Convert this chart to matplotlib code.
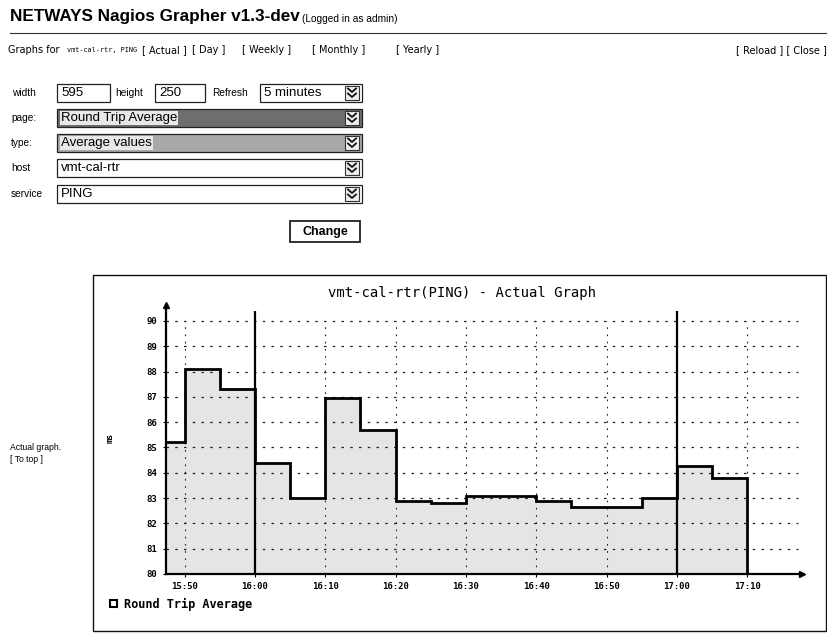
import matplotlib
matplotlib.use('Agg')
import matplotlib.pyplot as plt
from matplotlib.patches import Rectangle
from matplotlib.lines import Line2D

# round trip average (ms), one value per 5 minute bucket
bucket_start = ["15:45", "15:50", "15:55", "16:00", "16:05", "16:10", "16:15", "16:20",
                "16:25", "16:30", "16:35", "16:40", "16:45", "16:50", "16:55", "17:00", "17:05"]
bucket_last_end = "17:10"
rtt_ms = [85.2, 88.1, 87.3, 84.4, 83.0, 86.95, 85.7, 82.9,
          82.8, 83.1, 83.1, 82.9, 82.65, 82.65, 83.0, 84.25, 83.8]

x_ticks = ["15:50", "16:00", "16:10", "16:20", "16:30", "16:40", "16:50", "17:00", "17:10"]
hour_lines = ["16:00", "17:00"]
y_ticks = [80, 81, 82, 83, 84, 85, 86, 87, 88, 89, 90]
view_start, view_end = "15:47.3", "17:17.8"

nav_links = ["[ Actual ]", "[ Day ]", "[ Weekly ]", "[ Monthly ]", "[ Yearly ]"]


def to_min(s):
    h, m = s.split(":")
    return int(h) * 60 + float(m)


W, H = 828, 636
fig = plt.figure(figsize=(8.28, 6.36), dpi=100)
fig.patch.set_facecolor("white")

# page layer in pixel coords
page = fig.add_axes([0, 0, 1, 1])
page.set_xlim(0, W)
page.set_ylim(H, 0)
page.axis("off")

sans = "Liberation Sans"
wide = "DejaVu Sans"
mono = "DejaVu Sans Mono"

page.text(10, 17, "NETWAYS Nagios Grapher v1.3-dev", fontsize=12.3, weight="bold",
          family=sans, va="center")
page.text(302, 19, "(Logged in as admin)", fontsize=7.3, family=sans, va="center")
page.plot([10, 828], [33, 33], color="#333333", lw=0.8)
page.text(8, 50, "Graphs for", fontsize=7, family=wide, va="center")
page.text(67, 50, "vmt-cal-rtr, PING", fontsize=4.9, family=mono, va="center")
for txt, x in zip(nav_links, [142, 192, 242, 312, 396]):
    page.text(x, 50, txt, fontsize=7, family=wide, va="center")
page.text(827, 50, "[ Reload ] [ Close ]", fontsize=7, family=wide, va="center", ha="right")


def box(x0, y0, x1, y1, fc="white", lw=0.9):
    page.add_patch(Rectangle((x0, y0), x1 - x0, y1 - y0, facecolor=fc,
                             edgecolor="#222222", lw=lw))


def arrow_icon(xc, yc):
    page.add_patch(Rectangle((xc - 7, yc - 7), 14, 14, facecolor="#eeeeee",
                             edgecolor="#333333", lw=0.8))
    for dy in (-2.5, 2.5):
        page.add_line(Line2D([xc - 4, xc, xc + 4], [yc + dy - 2, yc + dy + 1.5, yc + dy - 2],
                             color="#111111", lw=1.3))


lab = dict(fontsize=7.3, family=sans, va="center")
val = dict(fontsize=9.5, family=sans, va="center")
page.text(12, 93, "width", **lab)
box(57, 84, 110, 102)
page.text(61, 93, "595", **val)
page.text(115, 93, "height", **lab)
box(155, 84, 205, 102)
page.text(159, 93, "250", **val)
page.text(212, 93, "Refresh", **lab)
box(260, 84, 362, 102)
page.text(264, 93, "5 minutes", **val)
arrow_icon(352, 93)

rows = [("page:", 118, "Round Trip Average", "#6e6e6e"),
        ("type:", 143, "Average values", "#a8a8a8"),
        ("host", 168, "vmt-cal-rtr", "white"),
        ("service", 194, "PING", "white")]
for name, yc, txt, fc in rows:
    page.text(11, yc, name, **lab)
    box(57, yc - 9, 362, yc + 9, fc=fc)
    page.text(61, yc, txt,
              bbox=dict(facecolor="#e8e8e8", edgecolor="none", pad=0.5) if fc != "white" else None,
              **val)
    arrow_icon(352, yc)

box(290, 221, 360, 242, lw=1.3)
page.text(325, 231.5, "Change", fontsize=9, family=sans, weight="bold", ha="center", va="center")

page.text(10, 447, "Actual graph.", fontsize=6.2, family=sans, va="center")
page.text(10, 460, "[ To top ]", fontsize=6.2, family=sans, va="center")

# graph frame
page.add_patch(Rectangle((93, 275), 733, 356, facecolor="white", edgecolor="#111111", lw=1))
page.text(462, 293, "vmt-cal-rtr(PING) - Actual Graph", fontsize=10, family=mono,
          ha="center", va="center")
page.text(110, 438, "ms", fontsize=6, family=mono, weight="bold", rotation=90,
          ha="center", va="center")
page.add_patch(Rectangle((110, 600), 7, 7, facecolor="white", edgecolor="black", lw=1.5))
page.text(124, 604, "Round Trip Average", fontsize=8.6, family=mono, weight="bold", va="center")

# chart axes
ax_l, ax_r, ax_t, ax_b = 165.7, 802, 305, 574
ax = fig.add_axes([ax_l / W, 1 - ax_b / H, (ax_r - ax_l) / W, (ax_b - ax_t) / H])
ax.patch.set_alpha(0)
y_top = 80 + (ax_b - ax_t) / 25.3
ax.set_xlim(to_min(view_start), to_min(view_end))
ax.set_ylim(80, y_top)

edges = [to_min(t) for t in bucket_start] + [to_min(bucket_last_end)]
ax.stairs(rtt_ms, edges, baseline=80, fill=True, color="#e5e5e5", lw=0, zorder=1)

for v in y_ticks[1:]:
    ax.axhline(v, xmax=0.993, color="#222222", lw=0.9, ls=(0, (2, 5)), zorder=2)
for t in x_ticks:
    if t in hour_lines:
        continue
    ax.vlines(to_min(t), 80, 90, color="#222222", lw=0.8, ls=(0, (1.5, 5)), zorder=2)
ax.vlines([to_min(t) for t in hour_lines], 80, 90.4, color="black", lw=1.6, zorder=3)

ax.stairs(rtt_ms, edges, baseline=80, color="black", lw=2, zorder=4)

for s in ("top", "right"):
    ax.spines[s].set_visible(False)
for s in ("left", "bottom"):
    ax.spines[s].set_linewidth(1.6)
ax.plot([0], [1], marker="^", color="black", markersize=4, transform=ax.transAxes, clip_on=False)
ax.plot([1], [0], marker=">", color="black", markersize=4, transform=ax.transAxes, clip_on=False)

ax.set_xticks([to_min(t) for t in x_ticks])
ax.set_xticklabels(x_ticks)
ax.set_yticks(y_ticks)
ax.set_yticklabels([str(v) for v in y_ticks])
ax.tick_params(length=2, width=0.8, pad=4, labelsize=6.5)
for lbl in ax.get_xticklabels() + ax.get_yticklabels():
    lbl.set_family(mono)
    lbl.set_weight("bold")

fig.savefig("out.png", dpi=100)
